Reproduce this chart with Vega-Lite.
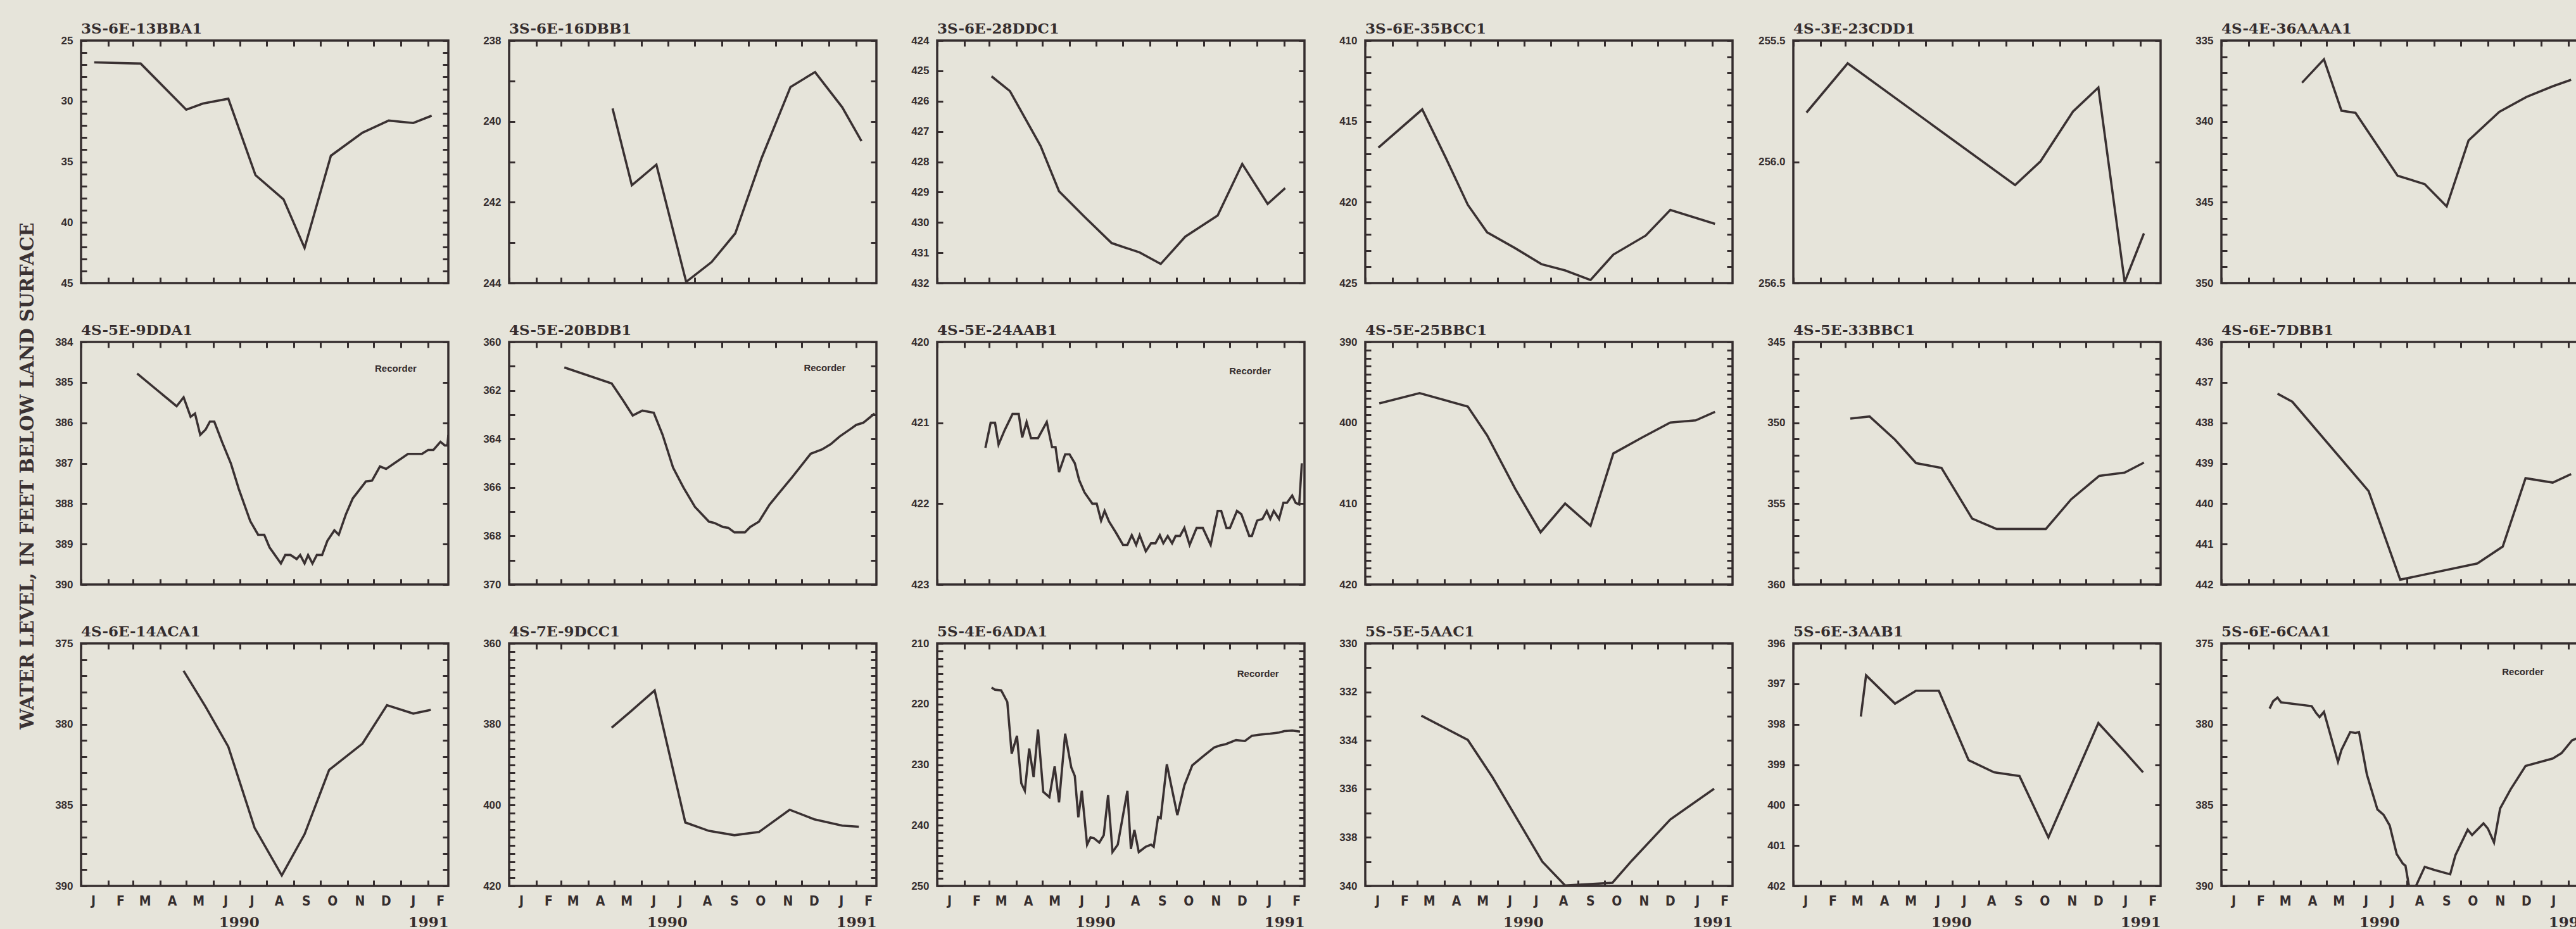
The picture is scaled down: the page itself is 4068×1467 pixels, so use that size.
{
"$schema": "https://vega.github.io/schema/vega-lite/v6.json",
"background": "#e6e4da",
"padding": {"left": 29, "top": 33, "right": 0, "bottom": 0},
"title": {"text": "WATER LEVEL, IN FEET BELOW LAND SURFACE", "orient": "left", "anchor": "middle", "frame": "bounds", "font": "DejaVu Serif", "fontWeight": "bold", "fontSize": 29, "offset": 26, "color": "#3a3132"},
"datasets": {"w": [
{"well":"3S-6E-13BBA1","date":"1990-01-16","level":26.8},
{"well":"3S-6E-13BBA1","date":"1990-03-10","level":26.9},
{"well":"3S-6E-13BBA1","date":"1990-05-01","level":30.7},
{"well":"3S-6E-13BBA1","date":"1990-05-20","level":30.2},
{"well":"3S-6E-13BBA1","date":"1990-06-18","level":29.8},
{"well":"3S-6E-13BBA1","date":"1990-07-19","level":36.1},
{"well":"3S-6E-13BBA1","date":"1990-08-20","level":38.1},
{"well":"3S-6E-13BBA1","date":"1990-09-13","level":42.1},
{"well":"3S-6E-13BBA1","date":"1990-10-13","level":34.5},
{"well":"3S-6E-13BBA1","date":"1990-11-18","level":32.6},
{"well":"3S-6E-13BBA1","date":"1990-12-18","level":31.6},
{"well":"3S-6E-13BBA1","date":"1991-01-15","level":31.8},
{"well":"3S-6E-13BBA1","date":"1991-02-05","level":31.2},
{"well":"3S-6E-16DBB1","date":"1990-04-29","level":239.68},
{"well":"3S-6E-16DBB1","date":"1990-05-21","level":241.58},
{"well":"3S-6E-16DBB1","date":"1990-06-18","level":241.07},
{"well":"3S-6E-16DBB1","date":"1990-07-22","level":243.97},
{"well":"3S-6E-16DBB1","date":"1990-08-20","level":243.48},
{"well":"3S-6E-16DBB1","date":"1990-09-16","level":242.77},
{"well":"3S-6E-16DBB1","date":"1990-10-16","level":240.91},
{"well":"3S-6E-16DBB1","date":"1990-11-18","level":239.15},
{"well":"3S-6E-16DBB1","date":"1990-12-16","level":238.78},
{"well":"3S-6E-16DBB1","date":"1991-01-16","level":239.65},
{"well":"3S-6E-16DBB1","date":"1991-02-07","level":240.49},
{"well":"3S-6E-28DDC1","date":"1990-03-04","level":425.18},
{"well":"3S-6E-28DDC1","date":"1990-03-25","level":425.67},
{"well":"3S-6E-28DDC1","date":"1990-04-29","level":427.48},
{"well":"3S-6E-28DDC1","date":"1990-05-20","level":428.97},
{"well":"3S-6E-28DDC1","date":"1990-06-18","level":429.81},
{"well":"3S-6E-28DDC1","date":"1990-07-19","level":430.68},
{"well":"3S-6E-28DDC1","date":"1990-08-20","level":430.99},
{"well":"3S-6E-28DDC1","date":"1990-09-13","level":431.37},
{"well":"3S-6E-28DDC1","date":"1990-10-11","level":430.47},
{"well":"3S-6E-28DDC1","date":"1990-11-17","level":429.77},
{"well":"3S-6E-28DDC1","date":"1990-12-15","level":428.07},
{"well":"3S-6E-28DDC1","date":"1991-01-13","level":429.39},
{"well":"3S-6E-28DDC1","date":"1991-02-02","level":428.87},
{"well":"3S-6E-35BCC1","date":"1990-01-16","level":416.62},
{"well":"3S-6E-35BCC1","date":"1990-03-07","level":414.26},
{"well":"3S-6E-35BCC1","date":"1990-04-03","level":417.27},
{"well":"3S-6E-35BCC1","date":"1990-04-28","level":420.16},
{"well":"3S-6E-35BCC1","date":"1990-05-20","level":421.86},
{"well":"3S-6E-35BCC1","date":"1990-06-21","level":422.84},
{"well":"3S-6E-35BCC1","date":"1990-07-21","level":423.83},
{"well":"3S-6E-35BCC1","date":"1990-08-17","level":424.22},
{"well":"3S-6E-35BCC1","date":"1990-09-15","level":424.81},
{"well":"3S-6E-35BCC1","date":"1990-10-11","level":423.24},
{"well":"3S-6E-35BCC1","date":"1990-11-17","level":422.06},
{"well":"3S-6E-35BCC1","date":"1990-12-15","level":420.48},
{"well":"3S-6E-35BCC1","date":"1991-02-04","level":421.34},
{"well":"4S-3E-23CDD1","date":"1990-01-16","level":255.797},
{"well":"4S-3E-23CDD1","date":"1990-03-04","level":255.594},
{"well":"4S-3E-23CDD1","date":"1990-09-11","level":256.096},
{"well":"4S-3E-23CDD1","date":"1990-10-10","level":255.998},
{"well":"4S-3E-23CDD1","date":"1990-11-16","level":255.793},
{"well":"4S-3E-23CDD1","date":"1990-12-15","level":255.694},
{"well":"4S-3E-23CDD1","date":"1991-01-14","level":256.496},
{"well":"4S-3E-23CDD1","date":"1991-02-05","level":256.295},
{"well":"4S-4E-36AAAA1","date":"1990-04-03","level":337.61},
{"well":"4S-4E-36AAAA1","date":"1990-04-28","level":336.16},
{"well":"4S-4E-36AAAA1","date":"1990-05-18","level":339.34},
{"well":"4S-4E-36AAAA1","date":"1990-06-03","level":339.47},
{"well":"4S-4E-36AAAA1","date":"1990-07-21","level":343.36},
{"well":"4S-4E-36AAAA1","date":"1990-08-21","level":343.88},
{"well":"4S-4E-36AAAA1","date":"1990-09-15","level":345.26},
{"well":"4S-4E-36AAAA1","date":"1990-10-10","level":341.18},
{"well":"4S-4E-36AAAA1","date":"1990-11-14","level":339.41},
{"well":"4S-4E-36AAAA1","date":"1990-12-15","level":338.49},
{"well":"4S-4E-36AAAA1","date":"1991-01-14","level":337.83},
{"well":"4S-4E-36AAAA1","date":"1991-02-04","level":337.43},
{"well":"4S-5E-9DDA1","date":"1990-03-06","level":384.78},
{"well":"4S-5E-9DDA1","date":"1990-04-20","level":385.59},
{"well":"4S-5E-9DDA1","date":"1990-04-28","level":385.37},
{"well":"4S-5E-9DDA1","date":"1990-05-06","level":385.85},
{"well":"4S-5E-9DDA1","date":"1990-05-11","level":385.77},
{"well":"4S-5E-9DDA1","date":"1990-05-17","level":386.30},
{"well":"4S-5E-9DDA1","date":"1990-05-23","level":386.17},
{"well":"4S-5E-9DDA1","date":"1990-05-28","level":385.97},
{"well":"4S-5E-9DDA1","date":"1990-06-02","level":385.97},
{"well":"4S-5E-9DDA1","date":"1990-06-11","level":386.48},
{"well":"4S-5E-9DDA1","date":"1990-06-21","level":387.01},
{"well":"4S-5E-9DDA1","date":"1990-06-30","level":387.64},
{"well":"4S-5E-9DDA1","date":"1990-07-13","level":388.43},
{"well":"4S-5E-9DDA1","date":"1990-07-22","level":388.77},
{"well":"4S-5E-9DDA1","date":"1990-07-29","level":388.77},
{"well":"4S-5E-9DDA1","date":"1990-08-04","level":389.08},
{"well":"4S-5E-9DDA1","date":"1990-08-17","level":389.48},
{"well":"4S-5E-9DDA1","date":"1990-08-22","level":389.27},
{"well":"4S-5E-9DDA1","date":"1990-08-28","level":389.27},
{"well":"4S-5E-9DDA1","date":"1990-09-04","level":389.37},
{"well":"4S-5E-9DDA1","date":"1990-09-08","level":389.27},
{"well":"4S-5E-9DDA1","date":"1990-09-13","level":389.48},
{"well":"4S-5E-9DDA1","date":"1990-09-17","level":389.27},
{"well":"4S-5E-9DDA1","date":"1990-09-22","level":389.48},
{"well":"4S-5E-9DDA1","date":"1990-09-27","level":389.27},
{"well":"4S-5E-9DDA1","date":"1990-10-03","level":389.27},
{"well":"4S-5E-9DDA1","date":"1990-10-09","level":388.92},
{"well":"4S-5E-9DDA1","date":"1990-10-17","level":388.66},
{"well":"4S-5E-9DDA1","date":"1990-10-22","level":388.77},
{"well":"4S-5E-9DDA1","date":"1990-10-30","level":388.27},
{"well":"4S-5E-9DDA1","date":"1990-11-07","level":387.87},
{"well":"4S-5E-9DDA1","date":"1990-11-22","level":387.45},
{"well":"4S-5E-9DDA1","date":"1990-11-29","level":387.43},
{"well":"4S-5E-9DDA1","date":"1990-12-08","level":387.08},
{"well":"4S-5E-9DDA1","date":"1990-12-15","level":387.14},
{"well":"4S-5E-9DDA1","date":"1991-01-09","level":386.77},
{"well":"4S-5E-9DDA1","date":"1991-01-25","level":386.77},
{"well":"4S-5E-9DDA1","date":"1991-02-01","level":386.67},
{"well":"4S-5E-9DDA1","date":"1991-02-07","level":386.67},
{"well":"4S-5E-9DDA1","date":"1991-02-15","level":386.47},
{"well":"4S-5E-9DDA1","date":"1991-02-20","level":386.56},
{"well":"4S-5E-9DDA1","date":"1991-02-23","level":386.56},
{"well":"4S-5E-9DDA1","date":"1991-02-24","level":386.30},
{"well":"4S-5E-20BDB1","date":"1990-03-05","level":361.05},
{"well":"4S-5E-20BDB1","date":"1990-04-28","level":361.71},
{"well":"4S-5E-20BDB1","date":"1990-05-11","level":362.41},
{"well":"4S-5E-20BDB1","date":"1990-05-22","level":363.03},
{"well":"4S-5E-20BDB1","date":"1990-06-02","level":362.83},
{"well":"4S-5E-20BDB1","date":"1990-06-15","level":362.92},
{"well":"4S-5E-20BDB1","date":"1990-06-25","level":363.82},
{"well":"4S-5E-20BDB1","date":"1990-07-07","level":365.18},
{"well":"4S-5E-20BDB1","date":"1990-07-19","level":366.01},
{"well":"4S-5E-20BDB1","date":"1990-08-01","level":366.80},
{"well":"4S-5E-20BDB1","date":"1990-08-17","level":367.41},
{"well":"4S-5E-20BDB1","date":"1990-08-23","level":367.46},
{"well":"4S-5E-20BDB1","date":"1990-09-02","level":367.63},
{"well":"4S-5E-20BDB1","date":"1990-09-08","level":367.66},
{"well":"4S-5E-20BDB1","date":"1990-09-15","level":367.85},
{"well":"4S-5E-20BDB1","date":"1990-09-27","level":367.85},
{"well":"4S-5E-20BDB1","date":"1990-10-03","level":367.63},
{"well":"4S-5E-20BDB1","date":"1990-10-13","level":367.41},
{"well":"4S-5E-20BDB1","date":"1990-10-25","level":366.71},
{"well":"4S-5E-20BDB1","date":"1990-11-04","level":366.27},
{"well":"4S-5E-20BDB1","date":"1990-11-20","level":365.57},
{"well":"4S-5E-20BDB1","date":"1990-12-11","level":364.61},
{"well":"4S-5E-20BDB1","date":"1990-12-24","level":364.43},
{"well":"4S-5E-20BDB1","date":"1991-01-03","level":364.21},
{"well":"4S-5E-20BDB1","date":"1991-01-13","level":363.90},
{"well":"4S-5E-20BDB1","date":"1991-01-25","level":363.60},
{"well":"4S-5E-20BDB1","date":"1991-02-01","level":363.42},
{"well":"4S-5E-20BDB1","date":"1991-02-09","level":363.33},
{"well":"4S-5E-20BDB1","date":"1991-02-22","level":362.95},
{"well":"4S-5E-24AAB1","date":"1990-02-25","level":421.31},
{"well":"4S-5E-24AAB1","date":"1990-03-03","level":421.00},
{"well":"4S-5E-24AAB1","date":"1990-03-08","level":421.00},
{"well":"4S-5E-24AAB1","date":"1990-03-12","level":421.27},
{"well":"4S-5E-24AAB1","date":"1990-03-19","level":421.09},
{"well":"4S-5E-24AAB1","date":"1990-03-28","level":420.89},
{"well":"4S-5E-24AAB1","date":"1990-04-04","level":420.89},
{"well":"4S-5E-24AAB1","date":"1990-04-08","level":421.18},
{"well":"4S-5E-24AAB1","date":"1990-04-13","level":420.99},
{"well":"4S-5E-24AAB1","date":"1990-04-18","level":421.19},
{"well":"4S-5E-24AAB1","date":"1990-04-26","level":421.19},
{"well":"4S-5E-24AAB1","date":"1990-05-06","level":420.99},
{"well":"4S-5E-24AAB1","date":"1990-05-12","level":421.30},
{"well":"4S-5E-24AAB1","date":"1990-05-16","level":421.30},
{"well":"4S-5E-24AAB1","date":"1990-05-20","level":421.61},
{"well":"4S-5E-24AAB1","date":"1990-05-27","level":421.39},
{"well":"4S-5E-24AAB1","date":"1990-06-01","level":421.39},
{"well":"4S-5E-24AAB1","date":"1990-06-07","level":421.50},
{"well":"4S-5E-24AAB1","date":"1990-06-12","level":421.71},
{"well":"4S-5E-24AAB1","date":"1990-06-18","level":421.86},
{"well":"4S-5E-24AAB1","date":"1990-06-27","level":422.00},
{"well":"4S-5E-24AAB1","date":"1990-07-02","level":422.00},
{"well":"4S-5E-24AAB1","date":"1990-07-07","level":422.21},
{"well":"4S-5E-24AAB1","date":"1990-07-11","level":422.09},
{"well":"4S-5E-24AAB1","date":"1990-07-16","level":422.22},
{"well":"4S-5E-24AAB1","date":"1990-07-24","level":422.36},
{"well":"4S-5E-24AAB1","date":"1990-08-01","level":422.51},
{"well":"4S-5E-24AAB1","date":"1990-08-06","level":422.51},
{"well":"4S-5E-24AAB1","date":"1990-08-11","level":422.39},
{"well":"4S-5E-24AAB1","date":"1990-08-16","level":422.51},
{"well":"4S-5E-24AAB1","date":"1990-08-20","level":422.39},
{"well":"4S-5E-24AAB1","date":"1990-08-27","level":422.59},
{"well":"4S-5E-24AAB1","date":"1990-09-02","level":422.49},
{"well":"4S-5E-24AAB1","date":"1990-09-07","level":422.49},
{"well":"4S-5E-24AAB1","date":"1990-09-12","level":422.39},
{"well":"4S-5E-24AAB1","date":"1990-09-16","level":422.49},
{"well":"4S-5E-24AAB1","date":"1990-09-21","level":422.40},
{"well":"4S-5E-24AAB1","date":"1990-09-26","level":422.49},
{"well":"4S-5E-24AAB1","date":"1990-09-30","level":422.40},
{"well":"4S-5E-24AAB1","date":"1990-10-05","level":422.40},
{"well":"4S-5E-24AAB1","date":"1990-10-10","level":422.30},
{"well":"4S-5E-24AAB1","date":"1990-10-16","level":422.51},
{"well":"4S-5E-24AAB1","date":"1990-10-24","level":422.30},
{"well":"4S-5E-24AAB1","date":"1990-10-31","level":422.30},
{"well":"4S-5E-24AAB1","date":"1990-11-09","level":422.51},
{"well":"4S-5E-24AAB1","date":"1990-11-17","level":422.09},
{"well":"4S-5E-24AAB1","date":"1990-11-21","level":422.09},
{"well":"4S-5E-24AAB1","date":"1990-11-27","level":422.30},
{"well":"4S-5E-24AAB1","date":"1990-12-01","level":422.30},
{"well":"4S-5E-24AAB1","date":"1990-12-09","level":422.09},
{"well":"4S-5E-24AAB1","date":"1990-12-14","level":422.13},
{"well":"4S-5E-24AAB1","date":"1990-12-23","level":422.40},
{"well":"4S-5E-24AAB1","date":"1990-12-26","level":422.40},
{"well":"4S-5E-24AAB1","date":"1991-01-01","level":422.21},
{"well":"4S-5E-24AAB1","date":"1991-01-07","level":422.19},
{"well":"4S-5E-24AAB1","date":"1991-01-12","level":422.09},
{"well":"4S-5E-24AAB1","date":"1991-01-16","level":422.19},
{"well":"4S-5E-24AAB1","date":"1991-01-20","level":422.09},
{"well":"4S-5E-24AAB1","date":"1991-01-26","level":422.19},
{"well":"4S-5E-24AAB1","date":"1991-01-31","level":421.99},
{"well":"4S-5E-24AAB1","date":"1991-02-04","level":421.99},
{"well":"4S-5E-24AAB1","date":"1991-02-10","level":421.90},
{"well":"4S-5E-24AAB1","date":"1991-02-14","level":421.99},
{"well":"4S-5E-24AAB1","date":"1991-02-18","level":422.01},
{"well":"4S-5E-24AAB1","date":"1991-02-21","level":421.50},
{"well":"4S-5E-25BBC1","date":"1990-01-17","level":397.59},
{"well":"4S-5E-25BBC1","date":"1990-03-04","level":396.33},
{"well":"4S-5E-25BBC1","date":"1990-04-28","level":397.99},
{"well":"4S-5E-25BBC1","date":"1990-05-20","level":401.55},
{"well":"4S-5E-25BBC1","date":"1990-06-21","level":408.14},
{"well":"4S-5E-25BBC1","date":"1990-07-20","level":413.54},
{"well":"4S-5E-25BBC1","date":"1990-08-17","level":409.98},
{"well":"4S-5E-25BBC1","date":"1990-09-15","level":412.75},
{"well":"4S-5E-25BBC1","date":"1990-10-11","level":403.79},
{"well":"4S-5E-25BBC1","date":"1990-11-13","level":401.81},
{"well":"4S-5E-25BBC1","date":"1990-12-15","level":399.97},
{"well":"4S-5E-25BBC1","date":"1991-01-13","level":399.70},
{"well":"4S-5E-25BBC1","date":"1991-02-04","level":398.65},
{"well":"4S-5E-33BBC1","date":"1990-03-07","level":349.74},
{"well":"4S-5E-33BBC1","date":"1990-03-29","level":349.61},
{"well":"4S-5E-33BBC1","date":"1990-04-27","level":351.04},
{"well":"4S-5E-33BBC1","date":"1990-05-21","level":352.49},
{"well":"4S-5E-33BBC1","date":"1990-06-19","level":352.79},
{"well":"4S-5E-33BBC1","date":"1990-07-24","level":355.92},
{"well":"4S-5E-33BBC1","date":"1990-08-21","level":356.57},
{"well":"4S-5E-33BBC1","date":"1990-10-16","level":356.57},
{"well":"4S-5E-33BBC1","date":"1990-11-14","level":354.73},
{"well":"4S-5E-33BBC1","date":"1990-12-16","level":353.28},
{"well":"4S-5E-33BBC1","date":"1991-01-14","level":353.08},
{"well":"4S-5E-33BBC1","date":"1991-02-05","level":352.46},
{"well":"4S-6E-7DBB1","date":"1990-03-06","level":437.28},
{"well":"4S-6E-7DBB1","date":"1990-03-23","level":437.48},
{"well":"4S-6E-7DBB1","date":"1990-06-18","level":439.69},
{"well":"4S-6E-7DBB1","date":"1990-07-24","level":441.88},
{"well":"4S-6E-7DBB1","date":"1990-10-20","level":441.48},
{"well":"4S-6E-7DBB1","date":"1990-11-18","level":441.06},
{"well":"4S-6E-7DBB1","date":"1990-12-14","level":439.37},
{"well":"4S-6E-7DBB1","date":"1991-01-14","level":439.48},
{"well":"4S-6E-7DBB1","date":"1991-02-04","level":439.27},
{"well":"4S-6E-14ACA1","date":"1990-04-28","level":376.70},
{"well":"4S-6E-14ACA1","date":"1990-05-23","level":378.91},
{"well":"4S-6E-14ACA1","date":"1990-06-18","level":381.39},
{"well":"4S-6E-14ACA1","date":"1990-07-18","level":386.41},
{"well":"4S-6E-14ACA1","date":"1990-08-18","level":389.35},
{"well":"4S-6E-14ACA1","date":"1990-09-13","level":386.80},
{"well":"4S-6E-14ACA1","date":"1990-10-11","level":382.83},
{"well":"4S-6E-14ACA1","date":"1990-11-18","level":381.20},
{"well":"4S-6E-14ACA1","date":"1990-12-16","level":378.82},
{"well":"4S-6E-14ACA1","date":"1991-01-15","level":379.34},
{"well":"4S-6E-14ACA1","date":"1991-02-04","level":379.11},
{"well":"4S-7E-9DCC1","date":"1990-04-28","level":380.86},
{"well":"4S-7E-9DCC1","date":"1990-05-20","level":376.77},
{"well":"4S-7E-9DCC1","date":"1990-06-16","level":371.64},
{"well":"4S-7E-9DCC1","date":"1990-07-21","level":404.30},
{"well":"4S-7E-9DCC1","date":"1990-08-17","level":406.39},
{"well":"4S-7E-9DCC1","date":"1990-09-15","level":407.44},
{"well":"4S-7E-9DCC1","date":"1990-10-13","level":406.66},
{"well":"4S-7E-9DCC1","date":"1990-11-17","level":401.15},
{"well":"4S-7E-9DCC1","date":"1990-12-15","level":403.51},
{"well":"4S-7E-9DCC1","date":"1991-01-16","level":405.09},
{"well":"4S-7E-9DCC1","date":"1991-02-04","level":405.35},
{"well":"5S-4E-6ADA1","date":"1990-03-04","level":217.29},
{"well":"5S-4E-6ADA1","date":"1990-03-08","level":217.64},
{"well":"5S-4E-6ADA1","date":"1990-03-15","level":217.74},
{"well":"5S-4E-6ADA1","date":"1990-03-22","level":219.66},
{"well":"5S-4E-6ADA1","date":"1990-03-27","level":228.20},
{"well":"5S-4E-6ADA1","date":"1990-04-02","level":225.24},
{"well":"5S-4E-6ADA1","date":"1990-04-07","level":233.09},
{"well":"5S-4E-6ADA1","date":"1990-04-11","level":234.31},
{"well":"5S-4E-6ADA1","date":"1990-04-16","level":227.34},
{"well":"5S-4E-6ADA1","date":"1990-04-21","level":232.04},
{"well":"5S-4E-6ADA1","date":"1990-04-26","level":224.20},
{"well":"5S-4E-6ADA1","date":"1990-05-02","level":234.48},
{"well":"5S-4E-6ADA1","date":"1990-05-09","level":235.35},
{"well":"5S-4E-6ADA1","date":"1990-05-15","level":230.29},
{"well":"5S-4E-6ADA1","date":"1990-05-20","level":236.22},
{"well":"5S-4E-6ADA1","date":"1990-05-27","level":224.89},
{"well":"5S-4E-6ADA1","date":"1990-06-03","level":230.47},
{"well":"5S-4E-6ADA1","date":"1990-06-07","level":231.87},
{"well":"5S-4E-6ADA1","date":"1990-06-11","level":238.67},
{"well":"5S-4E-6ADA1","date":"1990-06-15","level":234.31},
{"well":"5S-4E-6ADA1","date":"1990-06-21","level":243.20},
{"well":"5S-4E-6ADA1","date":"1990-06-25","level":241.97},
{"well":"5S-4E-6ADA1","date":"1990-06-29","level":242.15},
{"well":"5S-4E-6ADA1","date":"1990-07-05","level":242.85},
{"well":"5S-4E-6ADA1","date":"1990-07-10","level":241.63},
{"well":"5S-4E-6ADA1","date":"1990-07-15","level":235.00},
{"well":"5S-4E-6ADA1","date":"1990-07-20","level":244.41},
{"well":"5S-4E-6ADA1","date":"1990-07-26","level":243.20},
{"well":"5S-4E-6ADA1","date":"1990-08-06","level":234.31},
{"well":"5S-4E-6ADA1","date":"1990-08-10","level":243.90},
{"well":"5S-4E-6ADA1","date":"1990-08-14","level":240.76},
{"well":"5S-4E-6ADA1","date":"1990-08-19","level":244.41},
{"well":"5S-4E-6ADA1","date":"1990-08-27","level":243.54},
{"well":"5S-4E-6ADA1","date":"1990-09-02","level":243.20},
{"well":"5S-4E-6ADA1","date":"1990-09-05","level":243.54},
{"well":"5S-4E-6ADA1","date":"1990-09-10","level":238.65},
{"well":"5S-4E-6ADA1","date":"1990-09-13","level":238.83},
{"well":"5S-4E-6ADA1","date":"1990-09-20","level":229.94},
{"well":"5S-4E-6ADA1","date":"1990-09-25","level":233.43},
{"well":"5S-4E-6ADA1","date":"1990-10-02","level":238.31},
{"well":"5S-4E-6ADA1","date":"1990-10-10","level":233.43},
{"well":"5S-4E-6ADA1","date":"1990-10-19","level":230.12},
{"well":"5S-4E-6ADA1","date":"1990-11-01","level":228.55},
{"well":"5S-4E-6ADA1","date":"1990-11-13","level":227.16},
{"well":"5S-4E-6ADA1","date":"1990-11-20","level":226.81},
{"well":"5S-4E-6ADA1","date":"1990-11-26","level":226.63},
{"well":"5S-4E-6ADA1","date":"1990-12-08","level":225.94},
{"well":"5S-4E-6ADA1","date":"1990-12-18","level":226.11},
{"well":"5S-4E-6ADA1","date":"1990-12-26","level":225.24},
{"well":"5S-4E-6ADA1","date":"1991-01-03","level":225.06},
{"well":"5S-4E-6ADA1","date":"1991-01-16","level":224.89},
{"well":"5S-4E-6ADA1","date":"1991-01-26","level":224.71},
{"well":"5S-4E-6ADA1","date":"1991-02-01","level":224.47},
{"well":"5S-4E-6ADA1","date":"1991-02-10","level":224.37},
{"well":"5S-4E-6ADA1","date":"1991-02-19","level":224.54},
{"well":"5S-5E-5AAC1","date":"1990-03-06","level":332.98},
{"well":"5S-5E-5AAC1","date":"1990-04-28","level":333.98},
{"well":"5S-5E-5AAC1","date":"1990-05-26","level":335.51},
{"well":"5S-5E-5AAC1","date":"1990-07-22","level":339.00},
{"well":"5S-5E-5AAC1","date":"1990-08-17","level":339.98},
{"well":"5S-5E-5AAC1","date":"1990-10-10","level":339.87},
{"well":"5S-5E-5AAC1","date":"1990-11-01","level":338.96},
{"well":"5S-5E-5AAC1","date":"1990-12-15","level":337.26},
{"well":"5S-5E-5AAC1","date":"1991-02-03","level":335.99},
{"well":"5S-6E-3AAB1","date":"1990-03-19","level":397.81},
{"well":"5S-6E-3AAB1","date":"1990-03-25","level":396.79},
{"well":"5S-6E-3AAB1","date":"1990-04-27","level":397.49},
{"well":"5S-6E-3AAB1","date":"1990-05-21","level":397.17},
{"well":"5S-6E-3AAB1","date":"1990-06-16","level":397.17},
{"well":"5S-6E-3AAB1","date":"1990-07-20","level":398.89},
{"well":"5S-6E-3AAB1","date":"1990-08-18","level":399.19},
{"well":"5S-6E-3AAB1","date":"1990-09-16","level":399.28},
{"well":"5S-6E-3AAB1","date":"1990-10-19","level":400.80},
{"well":"5S-6E-3AAB1","date":"1990-12-15","level":397.97},
{"well":"5S-6E-3AAB1","date":"1991-01-14","level":398.68},
{"well":"5S-6E-3AAB1","date":"1991-02-04","level":399.19},
{"well":"5S-6E-6CAA1","date":"1990-02-25","level":379.03},
{"well":"5S-6E-6CAA1","date":"1990-03-01","level":378.58},
{"well":"5S-6E-6CAA1","date":"1990-03-06","level":378.35},
{"well":"5S-6E-6CAA1","date":"1990-03-10","level":378.64},
{"well":"5S-6E-6CAA1","date":"1990-04-14","level":378.88},
{"well":"5S-6E-6CAA1","date":"1990-04-19","level":379.30},
{"well":"5S-6E-6CAA1","date":"1990-04-23","level":379.56},
{"well":"5S-6E-6CAA1","date":"1990-04-28","level":379.23},
{"well":"5S-6E-6CAA1","date":"1990-05-14","level":382.32},
{"well":"5S-6E-6CAA1","date":"1990-05-18","level":381.59},
{"well":"5S-6E-6CAA1","date":"1990-05-28","level":380.48},
{"well":"5S-6E-6CAA1","date":"1990-06-03","level":380.54},
{"well":"5S-6E-6CAA1","date":"1990-06-07","level":380.48},
{"well":"5S-6E-6CAA1","date":"1990-06-16","level":383.11},
{"well":"5S-6E-6CAA1","date":"1990-06-28","level":385.27},
{"well":"5S-6E-6CAA1","date":"1990-07-05","level":385.60},
{"well":"5S-6E-6CAA1","date":"1990-07-12","level":386.26},
{"well":"5S-6E-6CAA1","date":"1990-07-20","level":388.03},
{"well":"5S-6E-6CAA1","date":"1990-07-27","level":388.62},
{"well":"5S-6E-6CAA1","date":"1990-07-30","level":388.75},
{"well":"5S-6E-6CAA1","date":"1990-08-03","level":390.0},
{"well":"5S-6E-6CAA1","date":"1990-08-11","level":390.0},
{"well":"5S-6E-6CAA1","date":"1990-08-21","level":388.82},
{"well":"5S-6E-6CAA1","date":"1990-09-01","level":389.01},
{"well":"5S-6E-6CAA1","date":"1990-09-19","level":389.28},
{"well":"5S-6E-6CAA1","date":"1990-09-25","level":388.10},
{"well":"5S-6E-6CAA1","date":"1990-10-09","level":386.52},
{"well":"5S-6E-6CAA1","date":"1990-10-14","level":386.85},
{"well":"5S-6E-6CAA1","date":"1990-10-27","level":386.13},
{"well":"5S-6E-6CAA1","date":"1990-11-01","level":386.45},
{"well":"5S-6E-6CAA1","date":"1990-11-08","level":387.31},
{"well":"5S-6E-6CAA1","date":"1990-11-15","level":385.21},
{"well":"5S-6E-6CAA1","date":"1990-11-27","level":384.02},
{"well":"5S-6E-6CAA1","date":"1990-12-14","level":382.58},
{"well":"5S-6E-6CAA1","date":"1991-01-14","level":382.12},
{"well":"5S-6E-6CAA1","date":"1991-01-24","level":381.79},
{"well":"5S-6E-6CAA1","date":"1991-02-05","level":381.00},
{"well":"5S-6E-6CAA1","date":"1991-02-16","level":380.74}
]},
"data": {"name": "w"},
"columns": 6,
"spacing": {"row": 93, "column": 96},
"bounds": "flush",
"resolve": {"scale": {"x": "independent", "y": "independent"}},
"concat": [
{"title": "3S-6E-13BBA1", "width": 580, "height": 383, "transform": [{"filter": "datum.well == '3S-6E-13BBA1'"}],
 "layer": [
  {"mark": {"type": "line", "clip": true}, "encoding": {
   "x": {"field": "date", "type": "temporal", "title": null, "scale": {"domain": [{"year": 1990, "month": 1, "date": 1}, {"year": 1991, "month": 2, "date": 24}]}, "axis": {"orient": "bottom", "tickCount": {"interval": "month", "step": 1}, "labels": false}},
   "y": {"field": "level", "type": "quantitative", "title": null, "scale": {"domain": [25, 45], "reverse": true, "nice": false, "zero": false}, "axis": {"orient": "left", "values": [25,26,27,28,29,30,31,32,33,34,35,36,37,38,39,40,41,42,43,44,45], "labelExpr": "datum.value % 5 == 0 ? datum.label : ''"}}}},
  {"mark": {"type": "line", "opacity": 0}, "encoding": {
   "x": {"field": "date", "type": "temporal", "title": null, "axis": {"orient": "top", "tickCount": {"interval": "month", "step": 1}, "labels": false}},
   "y": {"field": "level", "type": "quantitative", "title": null, "axis": {"orient": "right", "values": [25,26,27,28,29,30,31,32,33,34,35,36,37,38,39,40,41,42,43,44,45], "labels": false}}}}
 ],
 "resolve": {"axis": {"x": "independent", "y": "independent"}}},
{"title": "3S-6E-16DBB1", "width": 580, "height": 383, "transform": [{"filter": "datum.well == '3S-6E-16DBB1'"}],
 "layer": [
  {"mark": {"type": "line", "clip": true}, "encoding": {
   "x": {"field": "date", "type": "temporal", "title": null, "scale": {"domain": [{"year": 1990, "month": 1, "date": 1}, {"year": 1991, "month": 2, "date": 24}]}, "axis": {"orient": "bottom", "tickCount": {"interval": "month", "step": 1}, "labels": false}},
   "y": {"field": "level", "type": "quantitative", "title": null, "scale": {"domain": [238, 244], "reverse": true, "nice": false, "zero": false}, "axis": {"orient": "left", "values": [238,239,240,241,242,243,244], "labelExpr": "datum.value % 2 == 0 ? datum.label : ''"}}}},
  {"mark": {"type": "line", "opacity": 0}, "encoding": {
   "x": {"field": "date", "type": "temporal", "title": null, "axis": {"orient": "top", "tickCount": {"interval": "month", "step": 1}, "labels": false}},
   "y": {"field": "level", "type": "quantitative", "title": null, "axis": {"orient": "right", "values": [238,239,240,241,242,243,244], "labels": false}}}}
 ],
 "resolve": {"axis": {"x": "independent", "y": "independent"}}},
{"title": "3S-6E-28DDC1", "width": 580, "height": 383, "transform": [{"filter": "datum.well == '3S-6E-28DDC1'"}],
 "layer": [
  {"mark": {"type": "line", "clip": true}, "encoding": {
   "x": {"field": "date", "type": "temporal", "title": null, "scale": {"domain": [{"year": 1990, "month": 1, "date": 1}, {"year": 1991, "month": 2, "date": 24}]}, "axis": {"orient": "bottom", "tickCount": {"interval": "month", "step": 1}, "labels": false}},
   "y": {"field": "level", "type": "quantitative", "title": null, "scale": {"domain": [424, 432], "reverse": true, "nice": false, "zero": false}, "axis": {"orient": "left", "values": [424,425,426,427,428,429,430,431,432]}}}},
  {"mark": {"type": "line", "opacity": 0}, "encoding": {
   "x": {"field": "date", "type": "temporal", "title": null, "axis": {"orient": "top", "tickCount": {"interval": "month", "step": 1}, "labels": false}},
   "y": {"field": "level", "type": "quantitative", "title": null, "axis": {"orient": "right", "values": [424,425,426,427,428,429,430,431,432], "labels": false}}}}
 ],
 "resolve": {"axis": {"x": "independent", "y": "independent"}}},
{"title": "3S-6E-35BCC1", "width": 580, "height": 383, "transform": [{"filter": "datum.well == '3S-6E-35BCC1'"}],
 "layer": [
  {"mark": {"type": "line", "clip": true}, "encoding": {
   "x": {"field": "date", "type": "temporal", "title": null, "scale": {"domain": [{"year": 1990, "month": 1, "date": 1}, {"year": 1991, "month": 2, "date": 24}]}, "axis": {"orient": "bottom", "tickCount": {"interval": "month", "step": 1}, "labels": false}},
   "y": {"field": "level", "type": "quantitative", "title": null, "scale": {"domain": [410, 425], "reverse": true, "nice": false, "zero": false}, "axis": {"orient": "left", "values": [410,411,412,413,414,415,416,417,418,419,420,421,422,423,424,425], "labelExpr": "datum.value % 5 == 0 ? datum.label : ''"}}}},
  {"mark": {"type": "line", "opacity": 0}, "encoding": {
   "x": {"field": "date", "type": "temporal", "title": null, "axis": {"orient": "top", "tickCount": {"interval": "month", "step": 1}, "labels": false}},
   "y": {"field": "level", "type": "quantitative", "title": null, "axis": {"orient": "right", "values": [410,411,412,413,414,415,416,417,418,419,420,421,422,423,424,425], "labels": false}}}}
 ],
 "resolve": {"axis": {"x": "independent", "y": "independent"}}},
{"title": "4S-3E-23CDD1", "width": 580, "height": 383, "transform": [{"filter": "datum.well == '4S-3E-23CDD1'"}],
 "layer": [
  {"mark": {"type": "line", "clip": true}, "encoding": {
   "x": {"field": "date", "type": "temporal", "title": null, "scale": {"domain": [{"year": 1990, "month": 1, "date": 1}, {"year": 1991, "month": 2, "date": 24}]}, "axis": {"orient": "bottom", "tickCount": {"interval": "month", "step": 1}, "labels": false}},
   "y": {"field": "level", "type": "quantitative", "title": null, "scale": {"domain": [255.5, 256.5], "reverse": true, "nice": false, "zero": false}, "axis": {"orient": "left", "values": [255.5, 256, 256.5], "format": ".1f"}}}},
  {"mark": {"type": "line", "opacity": 0}, "encoding": {
   "x": {"field": "date", "type": "temporal", "title": null, "axis": {"orient": "top", "tickCount": {"interval": "month", "step": 1}, "labels": false}},
   "y": {"field": "level", "type": "quantitative", "title": null, "axis": {"orient": "right", "values": [255.5, 256, 256.5], "labels": false}}}}
 ],
 "resolve": {"axis": {"x": "independent", "y": "independent"}}},
{"title": "4S-4E-36AAAA1", "width": 580, "height": 383, "transform": [{"filter": "datum.well == '4S-4E-36AAAA1'"}],
 "layer": [
  {"mark": {"type": "line", "clip": true}, "encoding": {
   "x": {"field": "date", "type": "temporal", "title": null, "scale": {"domain": [{"year": 1990, "month": 1, "date": 1}, {"year": 1991, "month": 2, "date": 24}]}, "axis": {"orient": "bottom", "tickCount": {"interval": "month", "step": 1}, "labels": false}},
   "y": {"field": "level", "type": "quantitative", "title": null, "scale": {"domain": [335, 350], "reverse": true, "nice": false, "zero": false}, "axis": {"orient": "left", "values": [335,336,337,338,339,340,341,342,343,344,345,346,347,348,349,350], "labelExpr": "datum.value % 5 == 0 ? datum.label : ''"}}}},
  {"mark": {"type": "line", "opacity": 0}, "encoding": {
   "x": {"field": "date", "type": "temporal", "title": null, "axis": {"orient": "top", "tickCount": {"interval": "month", "step": 1}, "labels": false}},
   "y": {"field": "level", "type": "quantitative", "title": null, "axis": {"orient": "right", "values": [335,336,337,338,339,340,341,342,343,344,345,346,347,348,349,350], "labels": false}}}}
 ],
 "resolve": {"axis": {"x": "independent", "y": "independent"}}},
{"title": "4S-5E-9DDA1", "width": 580, "height": 383, "transform": [{"filter": "datum.well == '4S-5E-9DDA1'"}],
 "layer": [
  {"mark": {"type": "line", "clip": true}, "encoding": {
   "x": {"field": "date", "type": "temporal", "title": null, "scale": {"domain": [{"year": 1990, "month": 1, "date": 1}, {"year": 1991, "month": 2, "date": 24}]}, "axis": {"orient": "bottom", "tickCount": {"interval": "month", "step": 1}, "labels": false}},
   "y": {"field": "level", "type": "quantitative", "title": null, "scale": {"domain": [384, 390], "reverse": true, "nice": false, "zero": false}, "axis": {"orient": "left", "values": [384,385,386,387,388,389,390]}}}},
  {"mark": {"type": "line", "opacity": 0}, "encoding": {
   "x": {"field": "date", "type": "temporal", "title": null, "axis": {"orient": "top", "tickCount": {"interval": "month", "step": 1}, "labels": false}},
   "y": {"field": "level", "type": "quantitative", "title": null, "axis": {"orient": "right", "values": [384,385,386,387,388,389,390], "labels": false}}}},
  {"data": {"values": [{"note": "Recorder"}]}, "mark": {"type": "text"}, "encoding": {
   "text": {"field": "note"},
   "x": {"datum": {"year": 1990, "month": 12, "date": 26}, "type": "temporal", "axis": null},
   "y": {"datum": 384.66, "type": "quantitative", "axis": null}}}
 ],
 "resolve": {"axis": {"x": "independent", "y": "independent"}}},
{"title": "4S-5E-20BDB1", "width": 580, "height": 383, "transform": [{"filter": "datum.well == '4S-5E-20BDB1'"}],
 "layer": [
  {"mark": {"type": "line", "clip": true}, "encoding": {
   "x": {"field": "date", "type": "temporal", "title": null, "scale": {"domain": [{"year": 1990, "month": 1, "date": 1}, {"year": 1991, "month": 2, "date": 24}]}, "axis": {"orient": "bottom", "tickCount": {"interval": "month", "step": 1}, "labels": false}},
   "y": {"field": "level", "type": "quantitative", "title": null, "scale": {"domain": [360, 370], "reverse": true, "nice": false, "zero": false}, "axis": {"orient": "left", "values": [360,361,362,363,364,365,366,367,368,369,370], "labelExpr": "datum.value % 2 == 0 ? datum.label : ''"}}}},
  {"mark": {"type": "line", "opacity": 0}, "encoding": {
   "x": {"field": "date", "type": "temporal", "title": null, "axis": {"orient": "top", "tickCount": {"interval": "month", "step": 1}, "labels": false}},
   "y": {"field": "level", "type": "quantitative", "title": null, "axis": {"orient": "right", "values": [360,361,362,363,364,365,366,367,368,369,370], "labels": false}}}},
  {"data": {"values": [{"note": "Recorder"}]}, "mark": {"type": "text"}, "encoding": {
   "text": {"field": "note"},
   "x": {"datum": {"year": 1990, "month": 12, "date": 27}, "type": "temporal", "axis": null},
   "y": {"datum": 361.07, "type": "quantitative", "axis": null}}}
 ],
 "resolve": {"axis": {"x": "independent", "y": "independent"}}},
{"title": "4S-5E-24AAB1", "width": 580, "height": 383, "transform": [{"filter": "datum.well == '4S-5E-24AAB1'"}],
 "layer": [
  {"mark": {"type": "line", "clip": true}, "encoding": {
   "x": {"field": "date", "type": "temporal", "title": null, "scale": {"domain": [{"year": 1990, "month": 1, "date": 1}, {"year": 1991, "month": 2, "date": 24}]}, "axis": {"orient": "bottom", "tickCount": {"interval": "month", "step": 1}, "labels": false}},
   "y": {"field": "level", "type": "quantitative", "title": null, "scale": {"domain": [420, 423], "reverse": true, "nice": false, "zero": false}, "axis": {"orient": "left", "values": [420,421,422,423]}}}},
  {"mark": {"type": "line", "opacity": 0}, "encoding": {
   "x": {"field": "date", "type": "temporal", "title": null, "axis": {"orient": "top", "tickCount": {"interval": "month", "step": 1}, "labels": false}},
   "y": {"field": "level", "type": "quantitative", "title": null, "axis": {"orient": "right", "values": [420,421,422,423], "labels": false}}}},
  {"data": {"values": [{"note": "Recorder"}]}, "mark": {"type": "text"}, "encoding": {
   "text": {"field": "note"},
   "x": {"datum": {"year": 1990, "month": 12, "date": 24}, "type": "temporal", "axis": null},
   "y": {"datum": 420.36, "type": "quantitative", "axis": null}}}
 ],
 "resolve": {"axis": {"x": "independent", "y": "independent"}}},
{"title": "4S-5E-25BBC1", "width": 580, "height": 383, "transform": [{"filter": "datum.well == '4S-5E-25BBC1'"}],
 "layer": [
  {"mark": {"type": "line", "clip": true}, "encoding": {
   "x": {"field": "date", "type": "temporal", "title": null, "scale": {"domain": [{"year": 1990, "month": 1, "date": 1}, {"year": 1991, "month": 2, "date": 24}]}, "axis": {"orient": "bottom", "tickCount": {"interval": "month", "step": 1}, "labels": false}},
   "y": {"field": "level", "type": "quantitative", "title": null, "scale": {"domain": [390, 420], "reverse": true, "nice": false, "zero": false}, "axis": {"orient": "left", "values": [390,391,392,393,394,395,396,397,398,399,400,401,402,403,404,405,406,407,408,409,410,411,412,413,414,415,416,417,418,419,420], "labelExpr": "datum.value % 10 == 0 ? datum.label : ''"}}}},
  {"mark": {"type": "line", "opacity": 0}, "encoding": {
   "x": {"field": "date", "type": "temporal", "title": null, "axis": {"orient": "top", "tickCount": {"interval": "month", "step": 1}, "labels": false}},
   "y": {"field": "level", "type": "quantitative", "title": null, "axis": {"orient": "right", "values": [390,391,392,393,394,395,396,397,398,399,400,401,402,403,404,405,406,407,408,409,410,411,412,413,414,415,416,417,418,419,420], "labels": false}}}}
 ],
 "resolve": {"axis": {"x": "independent", "y": "independent"}}},
{"title": "4S-5E-33BBC1", "width": 580, "height": 383, "transform": [{"filter": "datum.well == '4S-5E-33BBC1'"}],
 "layer": [
  {"mark": {"type": "line", "clip": true}, "encoding": {
   "x": {"field": "date", "type": "temporal", "title": null, "scale": {"domain": [{"year": 1990, "month": 1, "date": 1}, {"year": 1991, "month": 2, "date": 24}]}, "axis": {"orient": "bottom", "tickCount": {"interval": "month", "step": 1}, "labels": false}},
   "y": {"field": "level", "type": "quantitative", "title": null, "scale": {"domain": [345, 360], "reverse": true, "nice": false, "zero": false}, "axis": {"orient": "left", "values": [345,346,347,348,349,350,351,352,353,354,355,356,357,358,359,360], "labelExpr": "datum.value % 5 == 0 ? datum.label : ''"}}}},
  {"mark": {"type": "line", "opacity": 0}, "encoding": {
   "x": {"field": "date", "type": "temporal", "title": null, "axis": {"orient": "top", "tickCount": {"interval": "month", "step": 1}, "labels": false}},
   "y": {"field": "level", "type": "quantitative", "title": null, "axis": {"orient": "right", "values": [345,346,347,348,349,350,351,352,353,354,355,356,357,358,359,360], "labels": false}}}}
 ],
 "resolve": {"axis": {"x": "independent", "y": "independent"}}},
{"title": "4S-6E-7DBB1", "width": 580, "height": 383, "transform": [{"filter": "datum.well == '4S-6E-7DBB1'"}],
 "layer": [
  {"mark": {"type": "line", "clip": true}, "encoding": {
   "x": {"field": "date", "type": "temporal", "title": null, "scale": {"domain": [{"year": 1990, "month": 1, "date": 1}, {"year": 1991, "month": 2, "date": 24}]}, "axis": {"orient": "bottom", "tickCount": {"interval": "month", "step": 1}, "labels": false}},
   "y": {"field": "level", "type": "quantitative", "title": null, "scale": {"domain": [436, 442], "reverse": true, "nice": false, "zero": false}, "axis": {"orient": "left", "values": [436,437,438,439,440,441,442]}}}},
  {"mark": {"type": "line", "opacity": 0}, "encoding": {
   "x": {"field": "date", "type": "temporal", "title": null, "axis": {"orient": "top", "tickCount": {"interval": "month", "step": 1}, "labels": false}},
   "y": {"field": "level", "type": "quantitative", "title": null, "axis": {"orient": "right", "values": [436,437,438,439,440,441,442], "labels": false}}}}
 ],
 "resolve": {"axis": {"x": "independent", "y": "independent"}}},
{"title": "4S-6E-14ACA1", "width": 580, "height": 383, "transform": [{"filter": "datum.well == '4S-6E-14ACA1'"}],
 "layer": [
  {"mark": {"type": "line", "clip": true}, "encoding": {
   "x": {"field": "date", "type": "temporal", "title": null, "scale": {"domain": [{"year": 1990, "month": 1, "date": 1}, {"year": 1991, "month": 2, "date": 24}]}, "axis": {"orient": "bottom", "tickCount": {"interval": "month", "step": 1}, "labelExpr": "substring(timeFormat(datum.value, '%b'), 0, 1)", "labelOffset": 19, "labelPadding": 33, "labelBaseline": "middle", "labelFont": "Liberation Sans Narrow, DejaVu Sans Condensed, Liberation Sans, sans-serif", "labelFontSize": 21}},
   "y": {"field": "level", "type": "quantitative", "title": null, "scale": {"domain": [375, 390], "reverse": true, "nice": false, "zero": false}, "axis": {"orient": "left", "values": [375,376,377,378,379,380,381,382,383,384,385,386,387,388,389,390], "labelExpr": "datum.value % 5 == 0 ? datum.label : ''"}}}},
  {"mark": {"type": "line", "opacity": 0}, "encoding": {
   "x": {"field": "date", "type": "temporal", "title": null, "axis": {"orient": "top", "tickCount": {"interval": "month", "step": 1}, "labels": false}},
   "y": {"field": "level", "type": "quantitative", "title": null, "axis": {"orient": "right", "values": [375,376,377,378,379,380,381,382,383,384,385,386,387,388,389,390], "labels": false}}}},
  {"mark": {"type": "line", "opacity": 0}, "encoding": {
   "x": {"field": "date", "type": "temporal", "title": null, "axis": {"orient": "bottom", "values": [{"year": 1990, "month": 6, "date": 30}, {"year": 1991, "month": 2, "date": 1}], "format": "%Y", "ticks": false, "labelPadding": 57, "labelBaseline": "middle", "labelFont": "DejaVu Serif", "labelFontSize": 23}},
   "y": {"field": "level", "type": "quantitative", "axis": null}}}
 ],
 "resolve": {"axis": {"x": "independent", "y": "independent"}}},
{"title": "4S-7E-9DCC1", "width": 580, "height": 383, "transform": [{"filter": "datum.well == '4S-7E-9DCC1'"}],
 "layer": [
  {"mark": {"type": "line", "clip": true}, "encoding": {
   "x": {"field": "date", "type": "temporal", "title": null, "scale": {"domain": [{"year": 1990, "month": 1, "date": 1}, {"year": 1991, "month": 2, "date": 24}]}, "axis": {"orient": "bottom", "tickCount": {"interval": "month", "step": 1}, "labelExpr": "substring(timeFormat(datum.value, '%b'), 0, 1)", "labelOffset": 19, "labelPadding": 33, "labelBaseline": "middle", "labelFont": "Liberation Sans Narrow, DejaVu Sans Condensed, Liberation Sans, sans-serif", "labelFontSize": 21}},
   "y": {"field": "level", "type": "quantitative", "title": null, "scale": {"domain": [360, 420], "reverse": true, "nice": false, "zero": false}, "axis": {"orient": "left", "values": [360,362,364,366,368,370,372,374,376,378,380,382,384,386,388,390,392,394,396,398,400,402,404,406,408,410,412,414,416,418,420], "labelExpr": "datum.value % 20 == 0 ? datum.label : ''"}}}},
  {"mark": {"type": "line", "opacity": 0}, "encoding": {
   "x": {"field": "date", "type": "temporal", "title": null, "axis": {"orient": "top", "tickCount": {"interval": "month", "step": 1}, "labels": false}},
   "y": {"field": "level", "type": "quantitative", "title": null, "axis": {"orient": "right", "values": [360,362,364,366,368,370,372,374,376,378,380,382,384,386,388,390,392,394,396,398,400,402,404,406,408,410,412,414,416,418,420], "labels": false}}}},
  {"mark": {"type": "line", "opacity": 0}, "encoding": {
   "x": {"field": "date", "type": "temporal", "title": null, "axis": {"orient": "bottom", "values": [{"year": 1990, "month": 6, "date": 30}, {"year": 1991, "month": 2, "date": 1}], "format": "%Y", "ticks": false, "labelPadding": 57, "labelBaseline": "middle", "labelFont": "DejaVu Serif", "labelFontSize": 23}},
   "y": {"field": "level", "type": "quantitative", "axis": null}}}
 ],
 "resolve": {"axis": {"x": "independent", "y": "independent"}}},
{"title": "5S-4E-6ADA1", "width": 580, "height": 383, "transform": [{"filter": "datum.well == '5S-4E-6ADA1'"}],
 "layer": [
  {"mark": {"type": "line", "clip": true}, "encoding": {
   "x": {"field": "date", "type": "temporal", "title": null, "scale": {"domain": [{"year": 1990, "month": 1, "date": 1}, {"year": 1991, "month": 2, "date": 24}]}, "axis": {"orient": "bottom", "tickCount": {"interval": "month", "step": 1}, "labelExpr": "substring(timeFormat(datum.value, '%b'), 0, 1)", "labelOffset": 19, "labelPadding": 33, "labelBaseline": "middle", "labelFont": "Liberation Sans Narrow, DejaVu Sans Condensed, Liberation Sans, sans-serif", "labelFontSize": 21}},
   "y": {"field": "level", "type": "quantitative", "title": null, "scale": {"domain": [210, 250], "reverse": true, "nice": false, "zero": false}, "axis": {"orient": "left", "values": [210,211.25,212.5,213.75,215,216.25,217.5,218.75,220,221.25,222.5,223.75,225,226.25,227.5,228.75,230,231.25,232.5,233.75,235,236.25,237.5,238.75,240,241.25,242.5,243.75,245,246.25,247.5,248.75,250], "labelExpr": "datum.value % 10 == 0 ? datum.label : ''"}}}},
  {"mark": {"type": "line", "opacity": 0}, "encoding": {
   "x": {"field": "date", "type": "temporal", "title": null, "axis": {"orient": "top", "tickCount": {"interval": "month", "step": 1}, "labels": false}},
   "y": {"field": "level", "type": "quantitative", "title": null, "axis": {"orient": "right", "values": [210,211.25,212.5,213.75,215,216.25,217.5,218.75,220,221.25,222.5,223.75,225,226.25,227.5,228.75,230,231.25,232.5,233.75,235,236.25,237.5,238.75,240,241.25,242.5,243.75,245,246.25,247.5,248.75,250], "labels": false}}}},
  {"mark": {"type": "line", "opacity": 0}, "encoding": {
   "x": {"field": "date", "type": "temporal", "title": null, "axis": {"orient": "bottom", "values": [{"year": 1990, "month": 6, "date": 30}, {"year": 1991, "month": 2, "date": 1}], "format": "%Y", "ticks": false, "labelPadding": 57, "labelBaseline": "middle", "labelFont": "DejaVu Serif", "labelFontSize": 23}},
   "y": {"field": "level", "type": "quantitative", "axis": null}}},
  {"data": {"values": [{"note": "Recorder"}]}, "mark": {"type": "text"}, "encoding": {
   "text": {"field": "note"},
   "x": {"datum": {"year": 1991, "month": 1, "date": 2}, "type": "temporal", "axis": null},
   "y": {"datum": 215.0, "type": "quantitative", "axis": null}}}
 ],
 "resolve": {"axis": {"x": "independent", "y": "independent"}}},
{"title": "5S-5E-5AAC1", "width": 580, "height": 383, "transform": [{"filter": "datum.well == '5S-5E-5AAC1'"}],
 "layer": [
  {"mark": {"type": "line", "clip": true}, "encoding": {
   "x": {"field": "date", "type": "temporal", "title": null, "scale": {"domain": [{"year": 1990, "month": 1, "date": 1}, {"year": 1991, "month": 2, "date": 24}]}, "axis": {"orient": "bottom", "tickCount": {"interval": "month", "step": 1}, "labelExpr": "substring(timeFormat(datum.value, '%b'), 0, 1)", "labelOffset": 19, "labelPadding": 33, "labelBaseline": "middle", "labelFont": "Liberation Sans Narrow, DejaVu Sans Condensed, Liberation Sans, sans-serif", "labelFontSize": 21}},
   "y": {"field": "level", "type": "quantitative", "title": null, "scale": {"domain": [330, 340], "reverse": true, "nice": false, "zero": false}, "axis": {"orient": "left", "values": [330,331,332,333,334,335,336,337,338,339,340], "labelExpr": "datum.value % 2 == 0 ? datum.label : ''"}}}},
  {"mark": {"type": "line", "opacity": 0}, "encoding": {
   "x": {"field": "date", "type": "temporal", "title": null, "axis": {"orient": "top", "tickCount": {"interval": "month", "step": 1}, "labels": false}},
   "y": {"field": "level", "type": "quantitative", "title": null, "axis": {"orient": "right", "values": [330,331,332,333,334,335,336,337,338,339,340], "labels": false}}}},
  {"mark": {"type": "line", "opacity": 0}, "encoding": {
   "x": {"field": "date", "type": "temporal", "title": null, "axis": {"orient": "bottom", "values": [{"year": 1990, "month": 6, "date": 30}, {"year": 1991, "month": 2, "date": 1}], "format": "%Y", "ticks": false, "labelPadding": 57, "labelBaseline": "middle", "labelFont": "DejaVu Serif", "labelFontSize": 23}},
   "y": {"field": "level", "type": "quantitative", "axis": null}}}
 ],
 "resolve": {"axis": {"x": "independent", "y": "independent"}}},
{"title": "5S-6E-3AAB1", "width": 580, "height": 383, "transform": [{"filter": "datum.well == '5S-6E-3AAB1'"}],
 "layer": [
  {"mark": {"type": "line", "clip": true}, "encoding": {
   "x": {"field": "date", "type": "temporal", "title": null, "scale": {"domain": [{"year": 1990, "month": 1, "date": 1}, {"year": 1991, "month": 2, "date": 24}]}, "axis": {"orient": "bottom", "tickCount": {"interval": "month", "step": 1}, "labelExpr": "substring(timeFormat(datum.value, '%b'), 0, 1)", "labelOffset": 19, "labelPadding": 33, "labelBaseline": "middle", "labelFont": "Liberation Sans Narrow, DejaVu Sans Condensed, Liberation Sans, sans-serif", "labelFontSize": 21}},
   "y": {"field": "level", "type": "quantitative", "title": null, "scale": {"domain": [396, 402], "reverse": true, "nice": false, "zero": false}, "axis": {"orient": "left", "values": [396,397,398,399,400,401,402]}}}},
  {"mark": {"type": "line", "opacity": 0}, "encoding": {
   "x": {"field": "date", "type": "temporal", "title": null, "axis": {"orient": "top", "tickCount": {"interval": "month", "step": 1}, "labels": false}},
   "y": {"field": "level", "type": "quantitative", "title": null, "axis": {"orient": "right", "values": [396,397,398,399,400,401,402], "labels": false}}}},
  {"mark": {"type": "line", "opacity": 0}, "encoding": {
   "x": {"field": "date", "type": "temporal", "title": null, "axis": {"orient": "bottom", "values": [{"year": 1990, "month": 6, "date": 30}, {"year": 1991, "month": 2, "date": 1}], "format": "%Y", "ticks": false, "labelPadding": 57, "labelBaseline": "middle", "labelFont": "DejaVu Serif", "labelFontSize": 23}},
   "y": {"field": "level", "type": "quantitative", "axis": null}}}
 ],
 "resolve": {"axis": {"x": "independent", "y": "independent"}}},
{"title": "5S-6E-6CAA1", "width": 580, "height": 383, "transform": [{"filter": "datum.well == '5S-6E-6CAA1'"}],
 "layer": [
  {"mark": {"type": "line", "clip": true}, "encoding": {
   "x": {"field": "date", "type": "temporal", "title": null, "scale": {"domain": [{"year": 1990, "month": 1, "date": 1}, {"year": 1991, "month": 2, "date": 24}]}, "axis": {"orient": "bottom", "tickCount": {"interval": "month", "step": 1}, "labelExpr": "substring(timeFormat(datum.value, '%b'), 0, 1)", "labelOffset": 19, "labelPadding": 33, "labelBaseline": "middle", "labelFont": "Liberation Sans Narrow, DejaVu Sans Condensed, Liberation Sans, sans-serif", "labelFontSize": 21}},
   "y": {"field": "level", "type": "quantitative", "title": null, "scale": {"domain": [375, 390], "reverse": true, "nice": false, "zero": false}, "axis": {"orient": "left", "values": [375,376,377,378,379,380,381,382,383,384,385,386,387,388,389,390], "labelExpr": "datum.value % 5 == 0 ? datum.label : ''"}}}},
  {"mark": {"type": "line", "opacity": 0}, "encoding": {
   "x": {"field": "date", "type": "temporal", "title": null, "axis": {"orient": "top", "tickCount": {"interval": "month", "step": 1}, "labels": false}},
   "y": {"field": "level", "type": "quantitative", "title": null, "axis": {"orient": "right", "values": [375,376,377,378,379,380,381,382,383,384,385,386,387,388,389,390], "labels": false}}}},
  {"mark": {"type": "line", "opacity": 0}, "encoding": {
   "x": {"field": "date", "type": "temporal", "title": null, "axis": {"orient": "bottom", "values": [{"year": 1990, "month": 6, "date": 30}, {"year": 1991, "month": 2, "date": 1}], "format": "%Y", "ticks": false, "labelPadding": 57, "labelBaseline": "middle", "labelFont": "DejaVu Serif", "labelFontSize": 23}},
   "y": {"field": "level", "type": "quantitative", "axis": null}}},
  {"data": {"values": [{"note": "Recorder"}]}, "mark": {"type": "text"}, "encoding": {
   "text": {"field": "note"},
   "x": {"datum": {"year": 1990, "month": 12, "date": 11}, "type": "temporal", "axis": null},
   "y": {"datum": 376.76, "type": "quantitative", "axis": null}}}
 ],
 "resolve": {"axis": {"x": "independent", "y": "independent"}}}
],
"config": {
 "view": {"stroke": "#352d2e", "strokeWidth": 3.5},
 "axis": {"domain": false, "grid": false, "tickColor": "#352d2e", "tickWidth": 3, "tickSize": -9, "labelColor": "#352d2e", "labelFont": "Liberation Sans, Arial, sans-serif", "labelFontWeight": "bold", "labelFontSize": 17, "labelPadding": 22, "labelOverlap": false, "labelBound": false, "labelFlush": false},
 "title": {"anchor": "start", "frame": "group", "font": "DejaVu Serif", "fontWeight": "bold", "fontSize": 23, "color": "#352d2e", "offset": -3},
 "line": {"color": "#3a3132", "strokeWidth": 3.6},
 "text": {"font": "Liberation Sans, Arial, sans-serif", "fontWeight": "bold", "fontSize": 15, "color": "#352d2e"}
}
}
